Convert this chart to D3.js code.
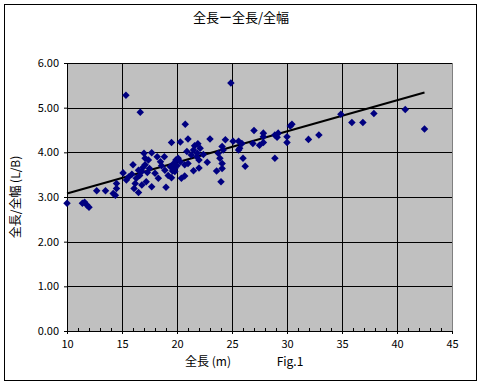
<!DOCTYPE html>
<html>
<head>
<meta charset="utf-8">
<script src="https://cdn.jsdelivr.net/npm/d3@7"></script>
<style>
  body { margin: 0; background: #fff; }
  text { font-family: "Noto Sans CJK JP", "DejaVu Sans", sans-serif; fill: #000; }
</style>
</head>
<body>
<div id="chart"></div>
<script>
var svgWidth = 482;
var svgHeight = 385;

var margin = { top: 63, right: 30, bottom: 54, left: 67 };
var width = 452 - margin.left;
var height = 331 - margin.top;

// overall length (m)
var lengthM = [10.0, 11.4, 11.6, 11.8, 12.0, 12.7, 13.5, 14.2, 14.4, 14.5, 14.5,
  15.36, 16.66, 19.5, 15.1, 15.4, 16.0, 16.1, 16.5, 17.0, 17.1, 17.7, 18.2, 18.5,
  18.85, 19.0, 18.3, 17.7, 17.2, 16.3, 15.9, 16.8, 17.1, 17.5, 18.0, 16.2, 16.8,
  18.9, 19.4, 19.6, 15.6, 16.5, 17.4, 16.6, 17.3, 18.6, 19.2, 16.9,
  20.75, 20.3, 21.0, 23.0, 24.4, 25.1, 25.6, 21.6, 21.9, 22.1, 21.5, 21.85, 21.3,
  24.1, 24.2, 25.7, 25.9, 26.0, 26.2, 23.75, 23.9, 24.1, 24.1, 23.6, 24.0, 22.75,
  22.0, 22.0, 21.5, 21.0, 20.7, 20.7, 20.4, 19.5, 19.8, 19.7, 20.1, 20.3, 19.8,
  19.9, 21.8, 20.9, 22.4, 20.0,
  27.0, 27.85, 27.85, 26.9, 27.5, 27.85, 28.9, 29.2, 29.1, 30.0, 30.0, 30.3, 30.45,
  31.95, 32.9, 28.9, 25.6,
  24.9, 34.9, 35.9, 36.9, 37.9, 40.75, 42.5];

// overall length / overall breadth (L/B)
var ratioLB = [2.86, 2.86, 2.88, 2.82, 2.77, 3.14, 3.14, 3.08, 3.04, 3.19, 3.30,
  5.28, 4.90, 4.22, 3.54, 3.38, 3.72, 3.19, 3.10, 3.98, 3.87, 3.99, 3.90, 3.79,
  3.90, 3.22, 3.42, 3.23, 3.34, 3.42, 3.51, 3.57, 3.72, 3.64, 3.53, 3.30, 3.27,
  3.60, 3.68, 3.58, 3.45, 3.60, 3.83, 3.48, 3.55, 3.70, 3.48, 3.66,
  4.63, 4.23, 4.30, 4.30, 4.28, 4.25, 4.25, 4.15, 4.19, 4.09, 4.05, 3.98, 3.94,
  4.13, 4.05, 4.09, 4.20, 3.87, 3.69, 3.98, 3.87, 3.75, 3.64, 3.58, 3.34, 3.78,
  3.83, 3.65, 3.59, 3.75, 3.72, 3.47, 3.42, 3.43, 3.64, 3.75, 3.87, 3.79, 3.57,
  3.83, 3.90, 4.02, 3.95, 3.70,
  4.49, 4.43, 4.35, 4.20, 4.16, 4.22, 4.39, 4.43, 4.34, 4.35, 4.22, 4.59, 4.63,
  4.29, 4.39, 3.87, 4.05,
  5.55, 4.85, 4.67, 4.67, 4.87, 4.96, 4.52];

// linear trend line end points
var trendX = [10, 42.5];
var trendY = [3.08, 5.34];

var xTicks = [10, 15, 20, 25, 30, 35, 40, 45];
var yTicks = [0, 1, 2, 3, 4, 5, 6];

var points = lengthM.map(function(d, i) { return { x: d, y: ratioLB[i] }; });

var svg = d3.select("#chart")
  .append("svg")
  .attr("width", svgWidth)
  .attr("height", svgHeight);

// outer frame
svg.append("rect")
  .attr("x", 4.5).attr("y", 4.5)
  .attr("width", 472).attr("height", 376)
  .attr("fill", "#fff")
  .attr("stroke", "#000");

svg.append("text")
  .attr("x", 241).attr("y", 22)
  .attr("text-anchor", "middle")
  .attr("font-size", 13)
  .text("全長ー全長/全幅");

var chartGroup = svg.append("g")
  .attr("transform", `translate(${margin.left}, ${margin.top})`);

var xLinearScale = d3.scaleLinear().domain([10, 45]).range([0, width]);
var yLinearScale = d3.scaleLinear().domain([0, 6]).range([height, 0]);

chartGroup.append("rect")
  .attr("width", width).attr("height", height)
  .attr("fill", "#c0c0c0");

// gridlines
chartGroup.selectAll(".vgrid")
  .data(xTicks.slice(1))
  .enter()
  .append("line")
  .attr("x1", d => Math.round(xLinearScale(d)) + 0.5)
  .attr("x2", d => Math.round(xLinearScale(d)) + 0.5)
  .attr("y1", 0).attr("y2", height)
  .attr("stroke", d => d === 45 ? "#808080" : "#000");

chartGroup.selectAll(".hgrid")
  .data(yTicks.slice(1))
  .enter()
  .append("line")
  .attr("x1", 0).attr("x2", width)
  .attr("y1", d => Math.round(yLinearScale(d)) + 0.5)
  .attr("y2", d => Math.round(yLinearScale(d)) + 0.5)
  .attr("stroke", "#000");

// axes
var bottomAxis = d3.axisBottom(xLinearScale)
  .tickValues(xTicks)
  .tickSize(3)
  .tickPadding(6)
  .tickFormat(d3.format("d"));
var leftAxis = d3.axisLeft(yLinearScale)
  .tickValues(yTicks)
  .tickSize(3)
  .tickPadding(5)
  .tickFormat(d3.format(".2f"));

var xAxis = chartGroup.append("g")
  .attr("transform", `translate(0, ${height})`)
  .call(bottomAxis);
var yAxis = chartGroup.append("g").call(leftAxis);

// minor ticks pointing in
var minor = d3.range(11, 45).filter(d => d % 5 !== 0);
xAxis.selectAll(".minor")
  .data(minor)
  .enter()
  .append("line")
  .attr("x1", d => Math.round(xLinearScale(d)) + 0.5)
  .attr("x2", d => Math.round(xLinearScale(d)) + 0.5)
  .attr("y1", 0).attr("y2", -3)
  .attr("stroke", "#000");

[xAxis, yAxis].forEach(function(a) {
  a.select(".domain").attr("stroke", "#000");
  a.selectAll("text")
    .attr("font-family", "'DejaVu Sans', sans-serif")
    .attr("font-size", 11);
});

// trend line
var trend = trendX.map((d, i) => [d, trendY[i]]);
chartGroup.append("path")
  .datum(trend)
  .attr("d", d3.line().x(d => xLinearScale(d[0])).y(d => yLinearScale(d[1])))
  .attr("fill", "none")
  .attr("stroke", "#000")
  .attr("stroke-width", 2);

// diamonds
chartGroup.selectAll(".pt")
  .data(points)
  .enter()
  .append("path")
  .attr("d", d3.symbol().type(d3.symbolDiamond2).size(36))
  .attr("transform", d => `translate(${xLinearScale(d.x)}, ${yLinearScale(d.y)})`)
  .attr("fill", "#000080");

// axis titles
svg.append("text")
  .attr("transform", "translate(20, 197) rotate(-90)")
  .attr("text-anchor", "middle")
  .attr("font-size", 12)
  .text("全長/全幅 (L/B)");

svg.append("text")
  .attr("x", 208).attr("y", 366)
  .attr("text-anchor", "middle")
  .attr("font-size", 12)
  .text("全長 (m)");

svg.append("text")
  .attr("x", 290).attr("y", 366)
  .attr("text-anchor", "middle")
  .attr("font-size", 12)
  .text("Fig.1");
</script>
</body>
</html>
